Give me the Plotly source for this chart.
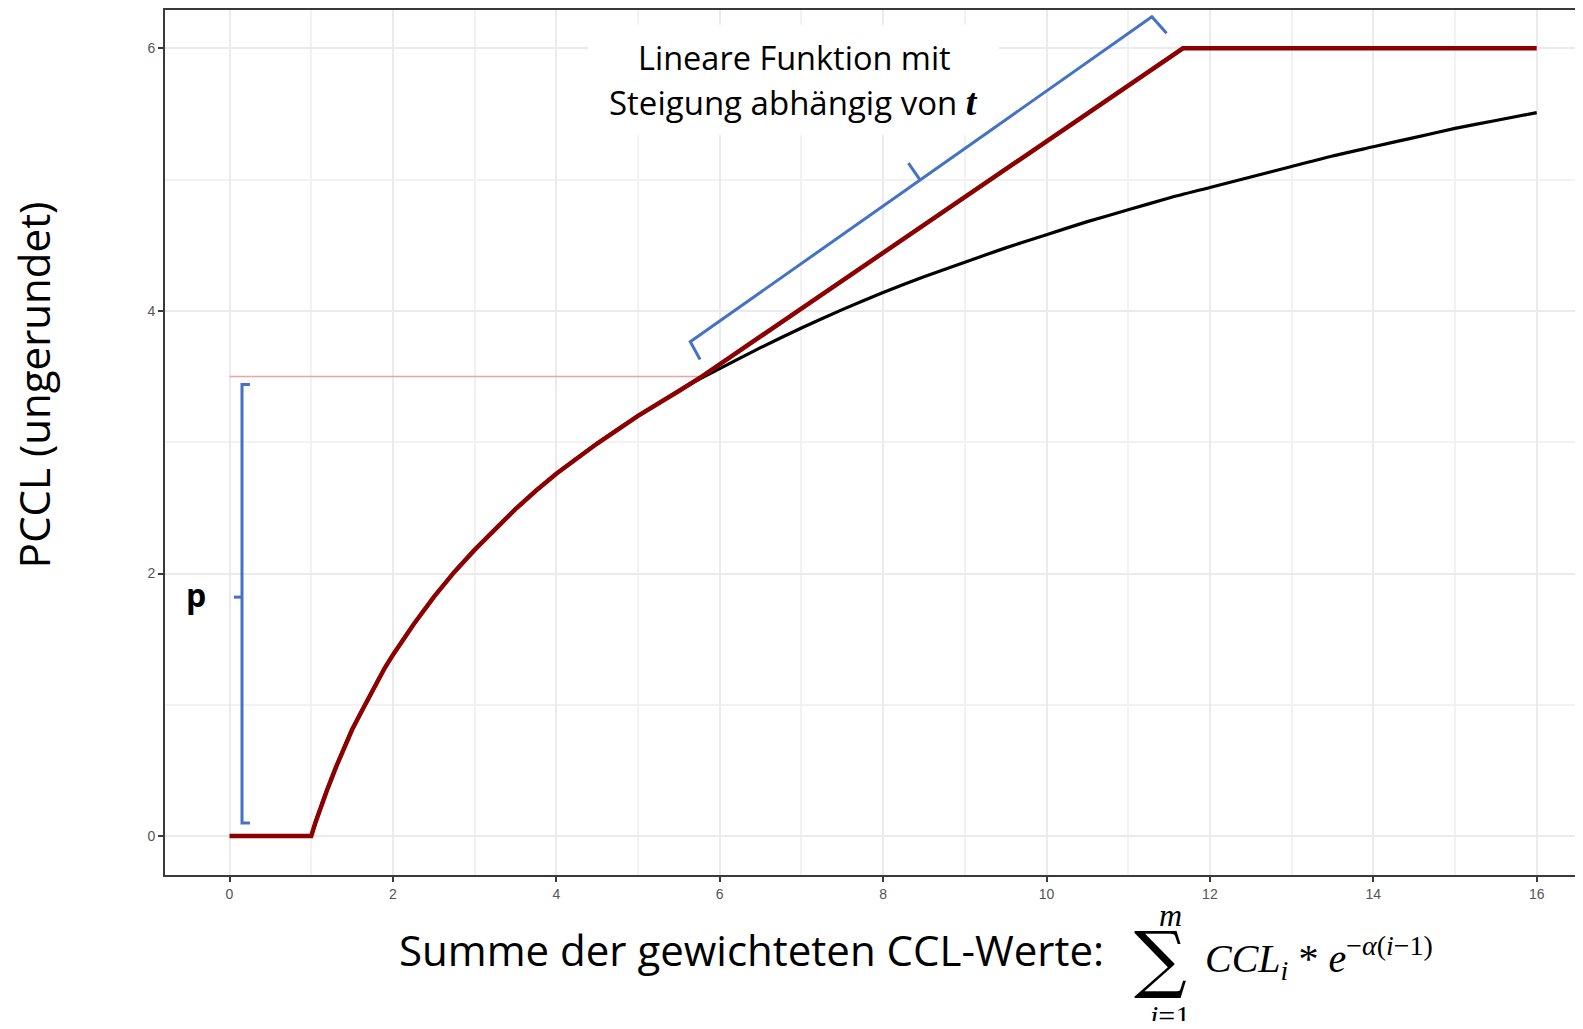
import plotly.graph_objects as go

# ---- data ----
curve_x = [1.0, 1.05, 1.1, 1.15, 1.2, 1.3, 1.4, 1.5, 1.6, 1.75, 1.9, 2.0, 2.25, 2.5, 2.75, 3.0,
           3.25, 3.5, 3.75, 4.0, 4.5, 5.0, 5.5, 5.75, 6.0, 6.5, 7.0, 7.5, 8.0, 8.5, 9.0, 9.5,
           10.0, 10.5, 11.0, 11.5, 12.0, 12.5, 13.0, 13.5, 14.0, 14.5, 15.0, 15.5, 16.0]
curve_y = [0.0, 0.10, 0.19, 0.28, 0.36, 0.52, 0.67, 0.81, 0.93, 1.11, 1.28, 1.38, 1.61, 1.82,
           2.01, 2.18, 2.34, 2.49, 2.63, 2.76, 2.99, 3.20, 3.39, 3.48, 3.56, 3.72, 3.87, 4.01,
           4.14, 4.26, 4.37, 4.48, 4.58, 4.68, 4.77, 4.86, 4.94, 5.02, 5.10, 5.18, 5.25, 5.32,
           5.39, 5.45, 5.51]

flat_start_x = [0.0, 1.0]
flat_start_y = [0.0, 0.0]
p_level = 3.5                      # threshold p
p_x = 5.78                         # where the curve reaches p
cap_x = [11.67, 16.0]              # linear part reaches cap, then flat
cap_y = [6.0, 6.0]

x_ticks = [0, 2, 4, 6, 8, 10, 12, 14, 16]
y_ticks = [0, 2, 4, 6]

# red (capped) function built from the pieces above
red_x = flat_start_x + [x for x in curve_x if 1.0 < x < p_x] + [p_x] + cap_x
red_y = flat_start_y + [y for x, y in zip(curve_x, curve_y) if 1.0 < x < p_x] + [p_level] + cap_y

# ---- layout geometry (page pixels; body has an 8px offset) ----
OFF = 8
W, H = 1583 - OFF, 1029 - 2 * OFF
PAGE_X0, PAGE_X1, PAGE_Y0, PAGE_Y1 = 165, 1583, 8, 875
L = PAGE_X0 - OFF
R = W - (PAGE_X1 - OFF)
T = PAGE_Y0 - OFF
B = H - (PAGE_Y1 - OFF)


def px(xp):
    return (xp - PAGE_X0) / (PAGE_X1 - PAGE_X0)


def py(yp):
    return (PAGE_Y1 - yp) / (PAGE_Y1 - PAGE_Y0)


BLUE = "#4472C4"
DARKRED = "#8B0000"
TXT_FONT = "Open Sans"
MATH_FONT = "Liberation Serif"

fig = go.Figure()

# thin threshold line p
fig.add_trace(go.Scatter(x=[0.0, p_x], y=[p_level, p_level], mode="lines",
                         line=dict(color="#EBA3A3", width=1.5), hoverinfo="skip"))
# black uncapped curve
fig.add_trace(go.Scatter(x=curve_x, y=curve_y, mode="lines",
                         line=dict(color="black", width=3.2, shape="spline", smoothing=0.6),
                         hoverinfo="skip"))
# red capped curve
fig.add_trace(go.Scatter(x=red_x, y=red_y, mode="lines",
                         line=dict(color=DARKRED, width=4.5), hoverinfo="skip"))

shapes = [
    # white box behind the text
    dict(type="rect", xref="x", yref="y", x0=4.39, x1=9.41, y0=5.34, y1=6.18,
         fillcolor="white", line=dict(width=0), layer="between"),
    # bracket along linear part
    dict(type="path", xref="x", yref="y",
         path="M 5.76,3.63 L 5.64,3.765 L 11.29,6.24 L 11.47,6.115",
         line=dict(color=BLUE, width=3)),
    dict(type="path", xref="x", yref="y",
         path="M 8.45,5.0 L 8.31,5.125",
         line=dict(color=BLUE, width=3)),
    # bracket p
    dict(type="path", xref="x", yref="y",
         path="M 0.25,3.44 L 0.153,3.44 L 0.153,0.10 L 0.25,0.10",
         line=dict(color=BLUE, width=3)),
    dict(type="path", xref="x", yref="y",
         path="M 0.153,1.82 L 0.055,1.82",
         line=dict(color=BLUE, width=3)),
]

ann = []


def add_text(text, xp, yp, size, family=TXT_FONT, xanchor="center", yanchor="middle",
             angle=0, color="black"):
    ann.append(dict(text=text, x=px(xp), y=py(yp), xref="paper", yref="paper",
                    showarrow=False, xanchor=xanchor, yanchor=yanchor, textangle=angle,
                    font=dict(family=family, size=size, color=color)))


add_text("Lineare Funktion mit", 794, 56, 32.5)
add_text("Steigung abhängig von <b><i><span style='font-family:Liberation Serif;font-size:38px'>t</span></i></b>",
         793, 101, 33)
add_text("<b>p</b>", 196, 594, 32)
add_text("PCCL (ungerundet)", 33, 384, 42, angle=-90)
add_text("Summe der gewichteten CCL-Werte:", 397, 950, 42, xanchor="left")
add_text("∑", 1160, 958, 74, family="DejaVu Serif")
add_text("<i>m</i>", 1170, 915, 32, family=MATH_FONT)
add_text("<i>i</i>=1", 1170, 1016, 30, family=MATH_FONT)
add_text("<i>CCL</i><sub><i>i</i></sub> * <i>e</i><sup>−<i>α</i>(<i>i</i>−1)</sup>",
         1203, 958, 40, family=MATH_FONT, xanchor="left")

axis_common = dict(
    showline=True, linecolor="#3a3a3a", linewidth=2,
    ticks="outside", ticklen=5, tickwidth=2, tickcolor="#3a3a3a",
    tickfont=dict(family="Liberation Sans", size=14, color="#555555"),
    showgrid=True, gridcolor="#EBEBEB", gridwidth=2,
    zeroline=False,
)

x_lo = (PAGE_X0 - 229.5) / 81.7
x_hi = (PAGE_X1 - 229.5) / 81.7
y_lo = (836.0 - PAGE_Y1) / 131.6
y_hi = (836.0 - PAGE_Y0) / 131.6

fig.update_layout(
    width=W, height=H,
    margin=dict(l=L, r=R, t=T, b=B, pad=0),
    paper_bgcolor="white", plot_bgcolor="white",
    showlegend=False,
    shapes=shapes,
    annotations=ann,
    xaxis=dict(range=[x_lo, x_hi], tickvals=x_ticks, ticktext=[str(v) for v in x_ticks],
               mirror=True,
               minor=dict(dtick=1, tick0=0, showgrid=True, gridcolor="#F2F2F2", gridwidth=1.5, ticks=""),
               **axis_common),
    yaxis=dict(range=[y_lo, y_hi], tickvals=y_ticks, ticktext=[str(v) for v in y_ticks],
               minor=dict(dtick=1, tick0=0, showgrid=True, gridcolor="#F2F2F2", gridwidth=1.5, ticks=""),
               **axis_common),
)

fig.write_html("out.html")
